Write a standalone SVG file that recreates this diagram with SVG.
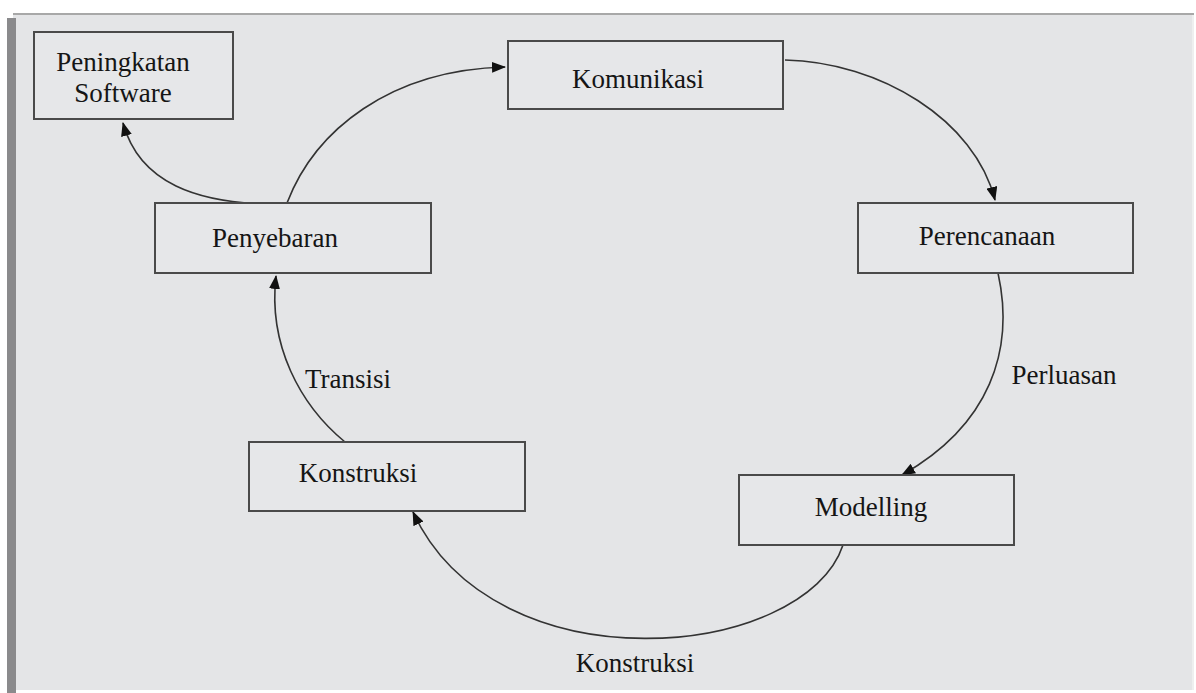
<svg xmlns="http://www.w3.org/2000/svg" width="1196" height="693" viewBox="0 0 1196 693">
<style>
  .box rect { fill: #e6e7e9; stroke: #4a4a4a; stroke-width: 2; }
  text { font-family: "Liberation Serif", "Times New Roman", serif; font-size: 27px; fill: #151515; text-anchor: middle; }
  .conn path { fill: none; stroke: #333; stroke-width: 1.6; marker-end: url(#arrow); }
</style>
<defs>
  <marker id="arrow" viewBox="0 0 14 11" refX="13" refY="5.5" markerWidth="14" markerHeight="11" markerUnits="userSpaceOnUse" orient="auto">
    <path d="M0,0 L14,5.5 L0,11 Z" fill="#111"/>
  </marker>
</defs>
<rect x="0" y="0" width="1196" height="693" fill="#ffffff"/>
<rect x="13" y="13" width="1181" height="677" fill="#e4e5e7"/>
<line x1="13" y1="14" x2="1194" y2="14" stroke="#a8a8a8" stroke-width="2"/>
<rect x="7" y="18" width="9" height="675" fill="#8a8a8c"/>
<line x1="1193" y1="15" x2="1193" y2="690" stroke="#f2f2f2" stroke-width="1.5"/>

<g class="conn">
  <path d="M265,204 C200,202 140,185 123,123"/>
  <path d="M287,203 C315,130 390,70 505,67"/>
  <path d="M785,60 C880,62 975,120 995,200"/>
  <path d="M998,273 C1015,350 990,425 902,475"/>
  <path d="M843,545 C805,660 495,690 413,512"/>
  <path d="M345,442 C300,405 268,345 276,276"/>
</g>

<g id="peningkatan" class="box">
  <rect x="34" y="32" width="199" height="87"/>
  <text x="123" y="71">Peningkatan</text>
  <text x="123" y="102">Software</text>
</g>
<g id="komunikasi" class="box">
  <rect x="508" y="41" width="275" height="68"/>
  <text x="638" y="88">Komunikasi</text>
</g>
<g id="perencanaan" class="box">
  <rect x="858" y="203" width="275" height="70"/>
  <text x="987" y="245">Perencanaan</text>
</g>
<g id="penyebaran" class="box">
  <rect x="155" y="203" width="276" height="70"/>
  <text x="275" y="247">Penyebaran</text>
</g>
<g id="konstruksi" class="box">
  <rect x="249" y="442" width="276" height="69"/>
  <text x="358" y="482">Konstruksi</text>
</g>
<g id="modelling" class="box">
  <rect x="739" y="475" width="275" height="70"/>
  <text x="871" y="516">Modelling</text>
</g>

<g id="labels">
  <text x="348" y="388">Transisi</text>
  <text x="1064" y="384">Perluasan</text>
  <text x="635" y="672">Konstruksi</text>
</g>
</svg>
